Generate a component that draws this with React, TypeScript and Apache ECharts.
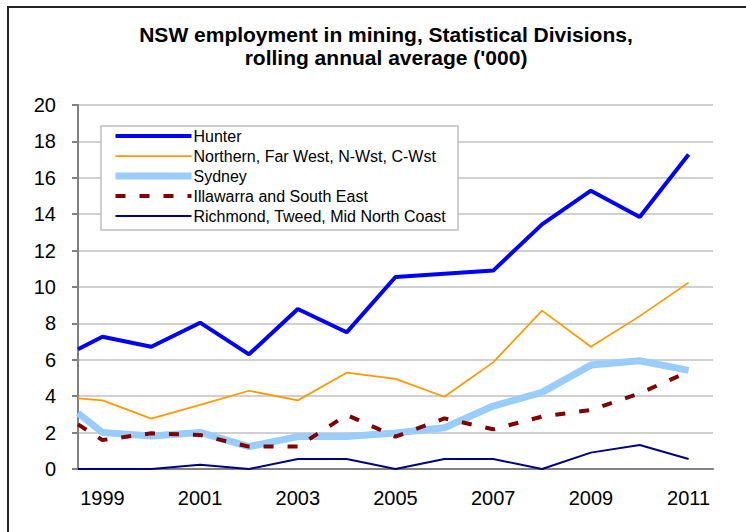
import React, { useEffect, useRef } from 'react';
import * as echarts from 'echarts';

const TITLE = "NSW employment in mining, Statistical Divisions,\nrolling annual average ('000)";
const YEAR_LABELS = ['1999', '2000', '2001', '2002', '2003', '2004', '2005', '2006', '2007', '2008', '2009', '2010', '2011'];
const X_POSITIONS = [1998.5, 1999, 2000, 2001, 2002, 2003, 2004, 2005, 2006, 2007, 2008, 2009, 2010, 2011];
const SERIES_NAMES = [
  'Hunter',
  'Northern, Far West, N-Wst, C-Wst',
  'Sydney',
  'Illawarra and South East',
  'Richmond, Tweed, Mid North Coast',
];
const HUNTER = [6.58, 7.27, 6.72, 8.04, 6.3, 8.79, 7.51, 10.55, 10.73, 10.9, 13.44, 15.29, 13.85, 17.28];
const NORTHERN = [3.88, 3.77, 2.77, 3.52, 4.3, 3.77, 5.29, 4.95, 3.97, 5.86, 8.7, 6.72, 8.4, 10.24];
const SYDNEY = [3.07, 2.01, 1.81, 2.01, 1.23, 1.78, 1.78, 1.98, 2.27, 3.46, 4.21, 5.71, 5.95, 5.42];
const ILLAWARRA = [2.45, 1.59, 1.96, 1.87, 1.23, 1.23, 2.97, 1.78, 2.78, 2.18, 2.88, 3.24, 4.16, 5.35];
const RICHMOND = [0, 0, 0, 0.24, 0, 0.55, 0.55, 0, 0.55, 0.55, 0, 0.9, 1.32, 0.55];

const FONT = 'Liberation Sans, Arial, Helvetica, sans-serif';

export default function App() {
  const ref = useRef<HTMLDivElement>(null);
  useEffect(() => {
    if (!ref.current) return;
    const chart = echarts.init(ref.current, null, { renderer: 'svg' });
    const mk = (arr: number[]) => X_POSITIONS.map((x, i) => [x, arr[i]]);
    const styles = [
      { color: '#0000ff', width: 4, type: 'solid' as any },
      { color: '#ff9900', width: 1.75, type: 'solid' as any },
      { color: '#99ccff', width: 7, type: 'solid' as any },
      { color: '#800000', width: 4, type: [10, 14] as any },
      { color: '#000080', width: 2, type: 'solid' as any },
    ];
    const values = [HUNTER, NORTHERN, SYDNEY, ILLAWARRA, RICHMOND];
    chart.setOption({
      animation: false,
      backgroundColor: '#ffffff',
      title: {
        text: TITLE,
        left: 381,
        top: 18,
        textAlign: 'center',
        textStyle: { fontSize: 21, fontWeight: 'bold', color: '#000', fontFamily: FONT, lineHeight: 23 },
      },
      legend: {
        orient: 'vertical',
        left: 101,
        top: 126,
        itemWidth: 76,
        itemHeight: 14,
        itemGap: 4,
        padding: [2, 12, 6, 11],
        backgroundColor: '#ffffff',
        borderColor: '#c0c0c0',
        borderWidth: 1.5,
        borderRadius: 0,
        textStyle: { fontSize: 16, color: '#000', fontFamily: FONT, padding: [0, 0, 0, -3] },
        lineStyle: { width: 'inherit' },
        itemStyle: { opacity: 0 },
        data: SERIES_NAMES,
      },
      grid: { left: 78, top: 105, width: 635, height: 364, containLabel: false },
      xAxis: [
        {
          type: 'category',
          data: YEAR_LABELS,
          boundaryGap: true,
          axisLine: { lineStyle: { color: '#808080', width: 2 } },
          axisTick: { interval: 1, length: 6, lineStyle: { color: '#808080', width: 2 } },
          axisLabel: { interval: 1, fontSize: 20, color: '#000', fontFamily: FONT, margin: 19 },
          splitLine: { show: false },
        },
        { type: 'value', min: 1998.5, max: 2011.5, show: false },
      ],
      yAxis: {
        type: 'value',
        min: 0,
        max: 20,
        interval: 2,
        axisLine: { show: true, lineStyle: { color: '#808080', width: 2 } },
        axisTick: { show: true, length: 6, lineStyle: { color: '#808080', width: 2 } },
        axisLabel: { fontSize: 20, color: '#000', fontFamily: FONT, margin: 22 },
        splitLine: { lineStyle: { color: '#c0c0c0', width: 1.5 } },
      },
      graphic: [
        {
          type: 'rect',
          shape: { x: 8, y: 7, width: 760, height: 560 },
          style: { fill: 'none', stroke: '#222', lineWidth: 2 },
          silent: true,
        },
      ],
      series: SERIES_NAMES.map((name, i) => ({
        name,
        type: 'line',
        xAxisIndex: 1,
        symbol: 'none',
        color: styles[i].color,
        lineStyle: { color: styles[i].color, width: styles[i].width, type: styles[i].type },
        data: mk(values[i]),
      })),
    });
    return () => chart.dispose();
  }, []);
  return <div ref={ref} style={{ position: 'absolute', left: 0, top: 0, width: 746, height: 532 }} />;
}
